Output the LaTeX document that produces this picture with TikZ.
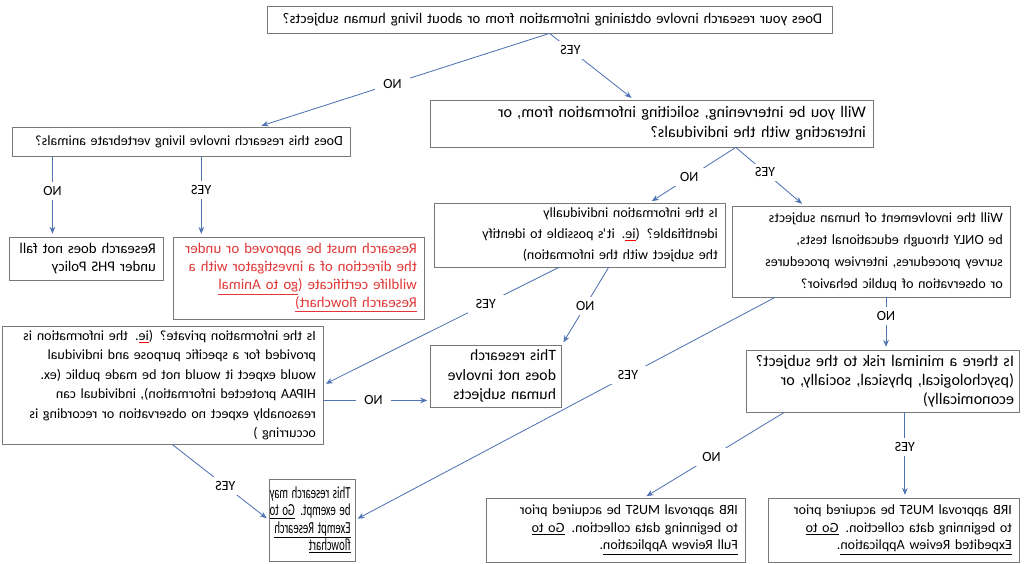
\documentclass[tikz,border=0pt]{standalone}
\usepackage{fontspec}
\setmainfont{Carlito}
\usepackage{graphicx}
\usetikzlibrary{calc,arrows.meta}

\definecolor{boxline}{RGB}{120,120,120}
\definecolor{arrowblue}{RGB}{80,115,180}
\definecolor{warnred}{RGB}{225,55,55}

\newcommand{\ulink}[1]{\underline{#1}}
\newcommand{\spellmark}[1]{{\color{red}\underline{\color{black}#1}}}
\newcommand{\fs}[2]{\fontsize{#1}{#2}\selectfont}
\newcommand{\squeeze}[1]{\scalebox{0.64}[1]{#1}}

\tikzset{
  box/.style={draw=boxline, fill=white, align=left, inner xsep=5pt, inner ysep=3pt,
    font=\fs{10}{13}},
  arr/.style={draw=arrowblue, semithick, -{Stealth[length=5pt,width=4pt]}, shorten >=2pt},
  lbl/.style={fill=white, text=black, font=\fs{10}{11}, inner xsep=6pt, inner ysep=3pt}
}

\begin{document}
\begin{tikzpicture}[x=0.025cm, y=-0.025cm, xscale=-1, every node/.append style={transform shape}]
  \useasboundingbox (0,0) rectangle (1024,564);

  % Questions and outcomes
  \node[box, font=\fs{10.5}{13}, inner xsep=7pt, text width=13.63cm, minimum height=0.68cm] (top) at (474.5,19.5)
    {Does your research involve obtaining information from or about living human subjects?};
  \node[box, font=\fs{11.5}{14.3}, text width=10.72cm, minimum height=1.18cm] (willyou) at (372.5,123.5)
    {Will you be intervening, soliciting information from, or\\ interacting with the individuals?};
  \node[box, text width=8.09cm, minimum height=0.73cm] (animals) at (843,141.5)
    {Does this research involve living vertebrate animals?};
  \node[box, font=\fs{10.5}{13}, text width=3.49cm, minimum height=1.08cm] (phs) at (938,258.5)
    {Research does not fall\\ under PHS Policy};
  \node[box, font=\fs{10.6}{12.8}, text=warnred, text width=5.92cm, minimum height=2.05cm] (animalcert) at (725.5,278)
    {Research must be approved or under\\ the direction of a investigator with a\\
     wildlife certificate (\ulink{go to Animal}\\ \ulink{Research flowchart)}};
  \node[box, font=\fs{10}{15}, text width=6.92cm, minimum height=1.6cm] (ident) at (444.5,235)
    {Is the information individually\\ identifiable? (\spellmark{ie}. it’s possible to identify\\
     the subject with the information)};
  \node[box, font=\fs{10}{15.6}, text width=6.59cm, minimum height=2.28cm] (involve) at (153,251.5)
    {Will the involvement of human subjects\\ be ONLY through educational tests,\\
     survey procedures, interview procedures\\ or observation of public behavior?};
  \node[box, font=\fs{10}{13.8}, text width=7.67cm, minimum height=2.95cm] (private) at (861.5,385)
    {Is the information private? (\spellmark{ie}. the information is\\
     provided for a specific purpose and individual\\ would expect it would not be made public (ex.\\
     HIPAA protected information), individual can\\ reasonably expect no observation or recording is\\
     occurring )};
  \node[box, font=\fs{11.2}{13.6}, inner xsep=4pt, text width=3.0cm, minimum height=1.55cm] (nohuman) at (528,376)
    {This research\\ does not involve\\ human subjects};
  \node[box, font=\fs{11.5}{13.5}, inner xsep=4pt, text width=6.55cm, minimum height=1.55cm] (risk) at (141,381)
    {Is there a minimal risk to the subject?\\ (psychological, physical, socially, or\\ economically)};
  \node[box, font=\fs{12}{12.3}, inner xsep=3pt, text width=1.93cm, minimum height=2.05cm] (exempt) at (712,520)
    {\squeeze{This research may}\\ \squeeze{be exempt. \ulink{Go to}}\\
     \squeeze{\ulink{Exempt Research}}\\ \squeeze{\ulink{flowchart}}};
  \node[box, font=\fs{10}{12.5}, text width=6.12cm, minimum height=1.6cm] (fullrev) at (408.5,530)
    {IRB approval MUST be acquired prior\\ to beginning data collection. \ulink{Go to}\\
     \ulink{Full Reivew Application}.};
  \node[box, font=\fs{10}{12.5}, text width=5.92cm, minimum height=1.6cm] (exprev) at (130.5,530)
    {IRB approval MUST be acquired prior\\ to beginning data collection. \ulink{Go to}\\
     \ulink{Expedited Review Application}.};

  % Split points
  \coordinate (tsplit) at (top.south);
  \coordinate (wsplit) at ($(willyou.south west)!0.31!(willyou.south east)$);
  \coordinate (aNo) at ($(animals.south west)!0.88!(animals.south east)$);
  \coordinate (aYes) at ($(animals.south west)!0.44!(animals.south east)$);
  \coordinate (iYes) at ($(ident.south west)!0.57!(ident.south east)$);
  \coordinate (iNo) at ($(ident.south west)!0.40!(ident.south east)$);
  \coordinate (pNo) at ($(private.north west)!0.63!(private.south west)$);
  \coordinate (pYes) at ($(private.south west)!0.47!(private.south east)$);
  \coordinate (vNo) at ($(involve.south west)!0.446!(involve.south east)$);
  \coordinate (vYes) at ($(involve.south west)!0.845!(involve.south east)$);
  \coordinate (rNo) at ($(risk.south west)!0.86!(risk.south east)$);
  \coordinate (rYes) at ($(risk.south west)!0.42!(risk.south east)$);

  % Connectors
  \draw[arr] (tsplit) -- node[lbl, pos=0.54]{NO} ($(animals.north west)!0.27!(animals.north east)$);
  \draw[arr] (tsplit) -- node[lbl, pos=0.25]{YES} ($(willyou.north west)!0.54!(willyou.north east)$);
  \draw[arr] (aNo) -- node[lbl, pos=0.43]{NO} (aNo |- phs.north);
  \draw[arr] (aYes) -- node[lbl, pos=0.42]{YES} (aYes |- animalcert.north);
  \draw[arr] (wsplit) -- node[lbl, pos=0.54]{NO} ($(ident.north west)!0.26!(ident.north east)$);
  \draw[arr] (wsplit) -- node[lbl, pos=0.43]{YES} ($(involve.north west)!0.74!(involve.north east)$);
  \draw[arr] (iYes) -- node[lbl, pos=0.31]{YES} (private.west);
  \draw[arr] (iNo) -- node[lbl, pos=0.5]{NO} (nohuman.north west);
  \draw[arr] (pNo) -- node[lbl, pos=0.47]{NO} (pNo -| nohuman.east);
  \draw[arr] (pYes) -- node[lbl, pos=0.55]{YES} (exempt.east);
  \draw[arr] (vNo) -- node[lbl, pos=0.36]{NO} (vNo |- risk.north);
  \draw[arr] (vYes) -- node[lbl, pos=0.35]{YES} (exempt.west);
  \draw[arr] (rNo) -- node[lbl, pos=0.52]{NO} ($(fullrev.north west)!0.39!(fullrev.north east)$);
  \draw[arr] (rYes) -- node[lbl, pos=0.41]{YES} (rYes |- exprev.north);
\end{tikzpicture}
\end{document}
